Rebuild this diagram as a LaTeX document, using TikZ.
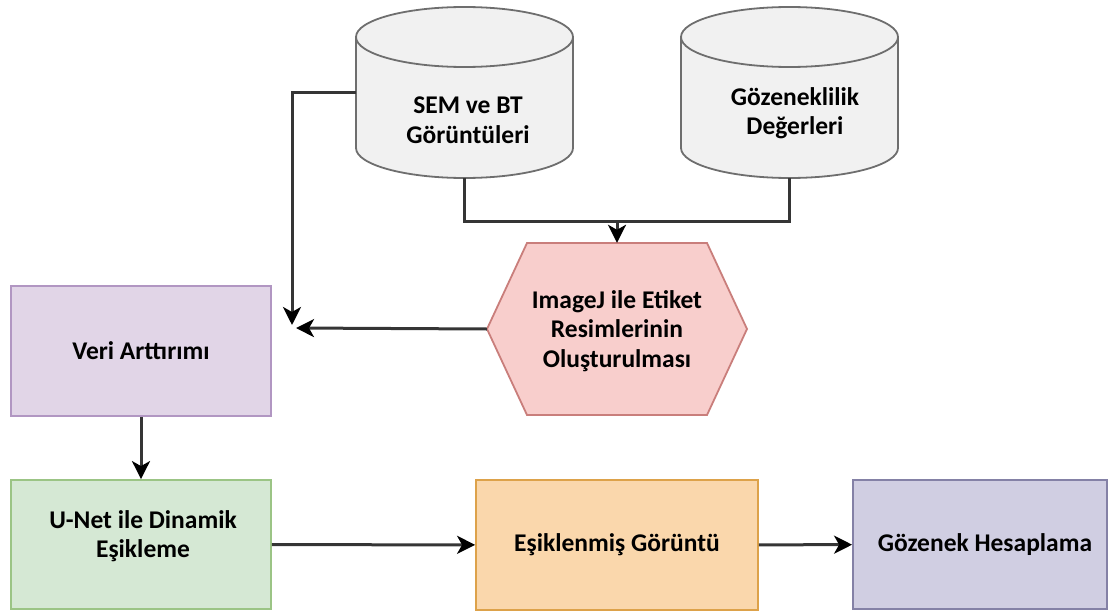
\documentclass[tikz,border=0pt]{standalone}
\usepackage{fontspec}
\setmainfont{Carlito}
\usetikzlibrary{arrows.meta}

\definecolor{linec}{HTML}{353535}
\definecolor{cylfill}{HTML}{F1F1F1}
\definecolor{cyldraw}{HTML}{6E6E6E}
\definecolor{hexfill}{HTML}{F8CECC}
\definecolor{hexdraw}{HTML}{C97E7B}
\definecolor{verifill}{HTML}{E1D5E7}
\definecolor{veridraw}{HTML}{B196C2}
\definecolor{unetfill}{HTML}{D5E8D4}
\definecolor{unetdraw}{HTML}{9BC485}
\definecolor{esikfill}{HTML}{FAD7AC}
\definecolor{esikdraw}{HTML}{DDA24A}
\definecolor{gozfill}{HTML}{D0CEE2}
\definecolor{gozdraw}{HTML}{8481A6}

\tikzset{
  lbl/.style={font=\fontsize{25.5}{29.5}\selectfont\bfseries, align=center, inner sep=0pt},
  anchorbox/.style={inner sep=0pt, minimum width=#1},
  procbox/.style n args={2}{draw=#2, fill=#1, line width=1.8pt, inner sep=0pt,
    font=\fontsize{25.5}{29.5}\selectfont\bfseries, align=center},
  plain/.style={draw=linec, line width=3pt},
  arr/.style={plain, -{Stealth[length=18pt, width=18pt, inset=5pt, color=black]}},
  cylshape/.style={fill=cylfill, draw=cyldraw, line width=1.8pt},
}

\begin{document}
\begin{tikzpicture}[x=1pt, y=-1pt]
  \useasboundingbox (0,0) rectangle (1110,615);

  % database cylinders (outline + front rim of the lid)
  \foreach \cx in {464.5, 789.5} {
    \filldraw[cylshape] (\cx-108.5,37) -- (\cx-108.5,148)
      arc[start angle=180, end angle=0, x radius=108.5, y radius=30]
      -- (\cx+108.5,37)
      arc[start angle=360, end angle=180, x radius=108.5, y radius=30] -- cycle;
    \draw[cylshape, fill=none] (\cx-108.5,37)
      arc[start angle=180, end angle=0, x radius=108.5, y radius=30];
  }
  \node[anchorbox=217pt, minimum height=171pt] (c1) at (464.5,92.5) {};
  \node[anchorbox=217pt, minimum height=171pt] (c2) at (789.5,92.5) {};
  \node[lbl] (t1) at (468,120) {SEM ve BT\\Görüntüleri};
  \node[lbl] (t2) at (795,113) {Gözeneklilik\\Değerleri};

  % hexagon for label generation
  \node[anchorbox=260pt, minimum height=172pt] (hex) at (617,329) {};
  \filldraw[fill=hexfill, draw=hexdraw, line width=1.8pt]
    (487,329) -- (527,243) -- (707,243) -- (747,329) -- (707,415) -- (527,415) -- cycle;
  \node[lbl] (thex) at (617,331) {ImageJ ile Etiket\\Resimlerinin\\Oluşturulması};

  % process boxes
  \node[procbox={verifill}{veridraw}, minimum width=260pt, minimum height=130pt] (veri) at (141,351) {Veri Arttırımı};
  \node[procbox={unetfill}{unetdraw}, minimum width=260pt, minimum height=129pt] (unet) at (141,544.5) {};
  \node[lbl] (tunet) at (143,536) {U-Net ile Dinamik\\Eşikleme};
  \node[procbox={esikfill}{esikdraw}, minimum width=282pt, minimum height=130pt] (esik) at (617,545) {Eşiklenmiş Görüntü};
  \node[procbox={gozfill}{gozdraw}, minimum width=254pt, minimum height=129pt] (goz) at (980,544.5) {};
  \node[lbl] (tgoz) at (985,545) {Gözenek Hesaplama};

  % connectors
  \coordinate (join) at (617,221);
  \coordinate (meetv) at (292,325);
  \coordinate (meeth) at (296,328);
  \draw[plain] (c1.south) |- (join) -| (c2.south);
  \draw[arr] (join) -- (hex.north);
  \draw[arr] (c1.west) -| (meetv);
  \draw[arr] (hex.west) -- (meeth);
  \draw[arr] (veri) -- (unet);
  \draw[arr] (unet) -- (esik);
  \draw[arr] (esik) -- (goz);
\end{tikzpicture}
\end{document}
